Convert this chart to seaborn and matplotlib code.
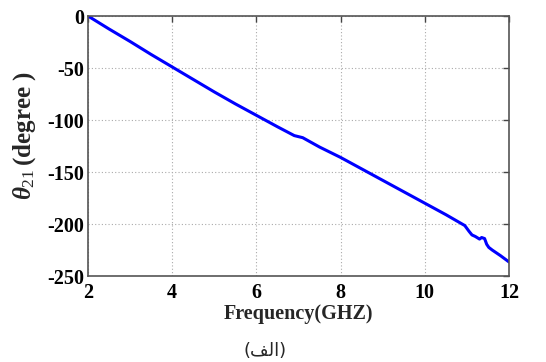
import numpy as np
import pandas as pd
import matplotlib
matplotlib.use("Agg")
import matplotlib.pyplot as plt
import seaborn as sns

freq = [2.0, 2.5, 3.0, 3.5, 4.0, 4.5, 5.0, 5.5, 6.0, 6.5, 6.9, 7.0, 7.1, 7.5, 8.0, 8.5, 9.0, 9.5, 10.0,
        10.5, 10.8, 10.95, 11.05, 11.12, 11.2, 11.3, 11.35, 11.42, 11.47, 11.52, 11.6, 11.8, 12.0]
phase = [0.0, -12.5, -24.5, -37.0, -49.0, -61.0, -73.0, -84.5, -95.5, -106.5, -115.0, -116.0, -117.0,
         -126.0, -136.0, -147.0, -158.0, -169.0, -180.0, -191.0, -198.0, -201.5, -207.0, -210.5,
         -212.0, -214.5, -213.0, -214.0, -219.5, -222.5, -225.0, -230.5, -236.5]
xticks = [2, 4, 6, 8, 10, 12]
yticks = [0, -50, -100, -150, -200, -250]

df = pd.DataFrame({"Frequency": freq, "Phase": phase})

sns.set_style("white")
plt.rcParams["font.family"] = ["Liberation Serif", "DejaVu Sans"]
plt.rcParams["mathtext.fontset"] = "custom"
plt.rcParams["mathtext.it"] = "Liberation Serif:italic:bold"
plt.rcParams["mathtext.rm"] = "Liberation Serif"

fig = plt.figure(figsize=(5.46, 3.62), dpi=100)
ax = fig.add_axes([88/546, 1-276/362, (509-88)/546, (276-16)/362])

sns.lineplot(data=df, x="Frequency", y="Phase", ax=ax, color="#0000ff", linewidth=2.2)

ax.set_xlim(2, 12)
ax.set_ylim(-250, 0)
ax.set_xticks(xticks)
ax.set_yticks(yticks)
ax.set_xticklabels([str(t) for t in xticks], fontsize=14.5, fontweight="bold")
ax.set_yticklabels([str(t) for t in yticks], fontsize=14.5, fontweight="bold")
ax.tick_params(axis="both", direction="in", length=4, width=1, top=True, right=True,
               colors="#444444", labelcolor="black")
ax.tick_params(axis="x", pad=5)
ax.tick_params(axis="y", pad=3)
ax.grid(True, linestyle=(0, (1, 2)), color="#aaaaaa", linewidth=0.8)
for s in ax.spines.values():
    s.set_color("#555555")
    s.set_linewidth(1.2)

ax.set_xlabel("Frequency(GHZ)", fontsize=14.5, fontweight="bold", labelpad=1)
ax.set_ylabel(r"$\theta_{21}\,$(degree )", fontsize=18, fontweight="bold")
ax.yaxis.set_label_coords(-0.118, 0.54)

# Arabic caption "(الف)" in visual order using presentation forms
fig.text(265/546, 1-351/362, "(\uFED2\uFEDF\uFE8D)", ha="center", va="center",
         fontsize=13, family=["DejaVu Sans"])

fig.savefig("out.png", dpi=100)
